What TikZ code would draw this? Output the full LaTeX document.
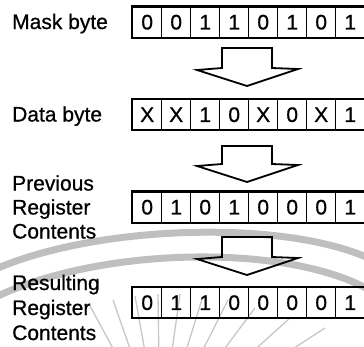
\documentclass[tikz,border=0pt]{standalone}
\usepackage{fontspec}
\setmainfont{Liberation Sans}
\newfontfamily\scanfont[FakeBold=0.7]{Liberation Sans}
\begin{document}
\begin{tikzpicture}[x=1pt,y=-1pt,
  lbl/.style={anchor=base west, font=\scanfont\fontsize{21}{24}\selectfont, inner sep=0pt},
  cell/.style={draw, line width=1.4pt, minimum width=29pt, minimum height=30pt, inner sep=0pt, anchor=north west, font=\scanfont\fontsize{21}{24}\selectfont},
  frame/.style={draw, line width=2.1pt},
  blockarrow/.style={draw, line width=1.8pt, line join=miter},
  wm/.style={draw=black!25, line width=7pt},
  ray/.style={draw=black!22, line width=1.3pt}]
\useasboundingbox (0,0) rectangle (364,346);
% watermark
\begin{scope}
\clip (0,0) rectangle (364,346);
\draw[wm] (-2,268) .. controls (100,225) and (280,220) .. (366,257);
\draw[wm] (-2,296) .. controls (100,248) and (280,243) .. (366,288);
\coordinate (rc) at (160,435);
\foreach \p in {(90,306),(113,300),(135,296),(158,294),(180,294),(203,296),(228,300),(255,308),(290,318),(325,328)}
  \draw[ray] \p -- (rc);
\end{scope}
% labels
\node[lbl] (lmask) at (12,29) {Mask byte};
\node[lbl] (ldata) at (12,121.5) {Data byte};
\node[lbl] (lprev1) at (12,190.5) {Previous};
\node[lbl] (lprev2) at (12,214.5) {Register};
\node[lbl] (lprev3) at (12,238.5) {Contents};
\node[lbl] (lres1) at (12,290) {Resulting};
\node[lbl] (lres2) at (12,315) {Register};
\node[lbl] (lres3) at (12,340) {Contents};
% rows
\foreach \b [count=\i] in {0,0,1,1,0,1,0,1}
  \node[cell] (m\i) at ({132+29*(\i-1)},6.5) {\b};
\foreach \b [count=\i] in {X,X,1,0,X,0,X,1}
  \node[cell] (d\i) at ({132+29*(\i-1)},99) {\b};
\foreach \b [count=\i] in {0,1,0,1,0,0,0,1}
  \node[cell] (p\i) at ({132+29*(\i-1)},191.5) {\b};
\foreach \b [count=\i] in {0,1,1,0,0,0,0,1}
  \node[cell] (s\i) at ({132+29*(\i-1)},287) {\b};
\draw[frame] (m1.north west) rectangle (m8.south east);
\draw[frame] (d1.north west) rectangle (d8.south east);
\draw[frame] (p1.north west) rectangle (p8.south east);
\draw[frame] (s1.north west) rectangle (s8.south east);
% block arrows
\draw[blockarrow] (222,48) -- (222,68) -- (197,70) -- (247,86) -- (298,69) -- (272,68) -- (272,48) -- cycle;
\draw[blockarrow] (222,146) -- (222,164) -- (197,166) -- (247,182) -- (298,165) -- (272,164) -- (272,146) -- cycle;
\draw[blockarrow] (222,237) -- (222,257) -- (197,259) -- (247,275) -- (298,258) -- (272,257) -- (272,237) -- cycle;
\end{tikzpicture}
\end{document}
